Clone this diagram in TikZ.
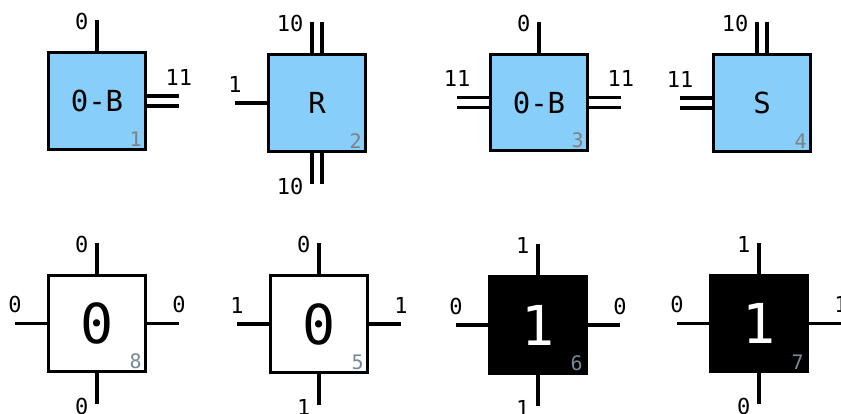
\documentclass[tikz,border=0pt]{standalone}
\usepackage{fontspec}
\newfontfamily\dvm{DejaVu Sans Mono}
\usetikzlibrary{calc}
\definecolor{tileblue}{RGB}{135,206,250}
\definecolor{idxgray}{RGB}{128,128,128}
\definecolor{idxslate}{RGB}{119,136,153}
\newcommand\sst[4]{%
  \coordinate (#1-#2) at ($(#1.#2)+#3$);
  \draw[stub] (#1.#2) -- (#1-#2) #4;}
\newcommand\dsv[4]{%
  \coordinate (#1-#2) at ($(#1.#2)+#3$);
  \draw[stub] ([xshift=-5pt]#1.#2) -- ([xshift=-5pt]#1-#2) #4;
  \draw[stub] ([xshift=5pt]#1.#2) -- ([xshift=5pt]#1-#2);}
\newcommand\dsh[4]{%
  \coordinate (#1-#2) at ($(#1.#2)+#3$);
  \draw[stub] ([yshift=5pt]#1.#2) -- ([yshift=5pt]#1-#2) #4;
  \draw[stub] ([yshift=-5pt]#1.#2) -- ([yshift=-5pt]#1-#2);}
\begin{document}
\begin{tikzpicture}[x=1pt,y=-1pt,
  tile/.style={draw=black, line width=3.4pt, minimum size=96.5pt, inner sep=0pt},
  bluetile/.style={tile, fill=tileblue, font=\dvm\fontsize{29}{29}\selectfont},
  whitetile/.style={tile, fill=white, font=\dvm\fontsize{55}{55}\selectfont},
  blacktile/.style={tile, fill=black, text=white, font=\dvm\fontsize{55}{55}\selectfont},
  stub/.style={line width=3.2pt},
  lbl/.style={font=\dvm\fontsize{22}{22}\selectfont, inner sep=0pt},
  lt/.style={lbl, anchor=east, xshift=-7pt, yshift=-1.5pt},
  lb/.style={lbl, anchor=east, xshift=-7pt, yshift=-2.5pt},
  lh/.style={lbl, anchor=south, yshift=9pt},
  idx/.style={font=\dvm\fontsize{20}{20}\selectfont, inner sep=0pt, anchor=south east},
]
\useasboundingbox (0,0) rectangle (841,414);
% row 1
\node[bluetile] (b1) at (97,101) {0-B};
\node[bluetile] (b2) at (317,103) {R};
\node[bluetile] (b3) at (539,102.5) {0-B};
\node[bluetile] (b4) at (762,103) {S};
% row 2
\node[whitetile] (b8) at (97,323.5) {0};
\node[whitetile] (b5) at (319,324) {0};
\node[blacktile] (b6) at (538,325) {1};
\node[blacktile] (b7) at (759,323.5) {1};
% indices
\node[idx, text=idxgray] (i1) at ([shift={(-5pt,4pt)}]b1.south east) {1};
\node[idx, text=idxgray] (i2) at ([shift={(-5pt,4pt)}]b2.south east) {2};
\node[idx, text=idxgray] (i3) at ([shift={(-5pt,4pt)}]b3.south east) {3};
\node[idx, text=idxgray] (i4) at ([shift={(-5pt,4pt)}]b4.south east) {4};
\node[idx, text=idxslate] (i8) at ([shift={(-5pt,4pt)}]b8.south east) {8};
\node[idx, text=idxslate] (i5) at ([shift={(-5pt,4pt)}]b5.south east) {5};
\node[idx, text=idxslate] (i6) at ([shift={(-5pt,4pt)}]b6.south east) {6};
\node[idx, text=idxslate] (i7) at ([shift={(-5pt,4pt)}]b7.south east) {7};
% stubs row 1
\sst{b1}{north}{(0,-31)}{node[lt]{0}}
\dsh{b1}{east}{(32,0)}{node[lh]{11}}
\dsv{b2}{north}{(0,-31)}{node[lt]{10}}
\sst{b2}{west}{(-32,0)}{node[lh]{1}}
\dsv{b2}{south}{(0,31)}{node[lb]{10}}
\sst{b3}{north}{(0,-31)}{node[lt]{0}}
\dsh{b3}{west}{(-32,0)}{node[lh]{11}}
\dsh{b3}{east}{(32,0)}{node[lh]{11}}
\dsv{b4}{north}{(0,-31)}{node[lt]{10}}
\dsh{b4}{west}{(-32,0)}{node[lh]{11}}
% stubs row 2
\sst{b8}{north}{(0,-31)}{node[lt]{0}}
\sst{b8}{west}{(-32,0)}{node[lh]{0}}
\sst{b8}{east}{(32,0)}{node[lh]{0}}
\sst{b8}{south}{(0,31)}{node[lb]{0}}
\sst{b5}{north}{(0,-31)}{node[lt]{0}}
\sst{b5}{west}{(-32,0)}{node[lh]{1}}
\sst{b5}{east}{(32,0)}{node[lh]{1}}
\sst{b5}{south}{(0,31)}{node[lb]{1}}
\sst{b6}{north}{(0,-31)}{node[lt]{1}}
\sst{b6}{west}{(-32,0)}{node[lh]{0}}
\sst{b6}{east}{(32,0)}{node[lh]{0}}
\sst{b6}{south}{(0,31)}{node[lb]{1}}
\sst{b7}{north}{(0,-31)}{node[lt]{1}}
\sst{b7}{west}{(-32,0)}{node[lh]{0}}
\sst{b7}{east}{(32,0)}{node[lh]{1}}
\sst{b7}{south}{(0,31)}{node[lb]{0}}
\end{tikzpicture}
\end{document}
